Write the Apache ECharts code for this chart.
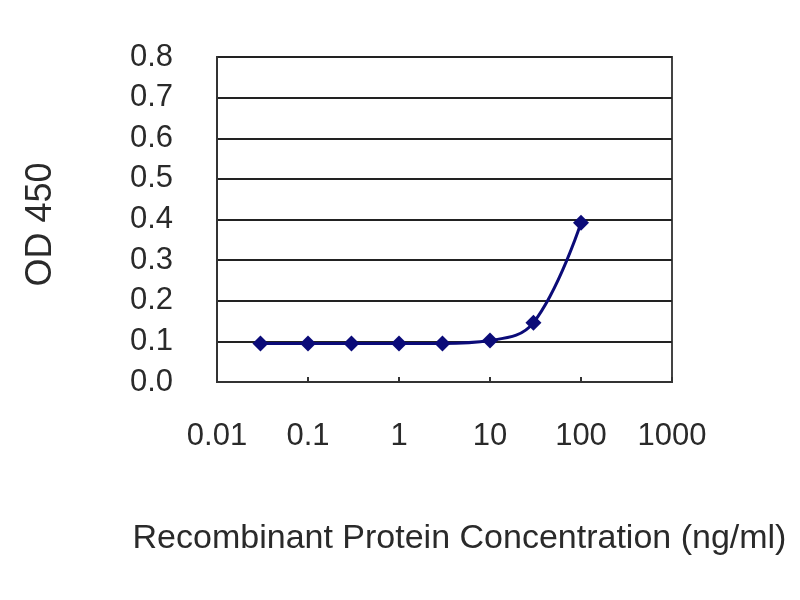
<!DOCTYPE html>
<html>
<head>
<meta charset="utf-8">
<script src="https://cdn.jsdelivr.net/npm/echarts@6/dist/echarts.min.js"></script>
<style>
html,body{margin:0;padding:0;background:#fff;}
#chart{width:800px;height:600px;}
</style>
</head>
<body>
<div id="chart"></div>
<script>
// Data
const concentrations = [0.03, 0.1, 0.3, 1, 3, 10, 30, 100];
const odValues = [0.095, 0.095, 0.095, 0.095, 0.095, 0.102, 0.146, 0.392];
const xTickLabels = ['0.01', '0.1', '1', '10', '100', '1000'];
const xAxisTitle = 'Recombinant Protein Concentration (ng/ml)';
const yAxisTitle = 'OD 450';

const chart = echarts.init(document.getElementById('chart'));
const font = '"Liberation Sans", Arial, sans-serif';
const option = {
  backgroundColor: '#fff',
  animation: false,
  grid: {
    left: 217, right: 128, top: 57, bottom: 218,
    show: true, borderColor: '#444', borderWidth: 2, backgroundColor: '#fff'
  },
  xAxis: {
    type: 'log', logBase: 10, min: 0.01, max: 1000,
    name: xAxisTitle, nameLocation: 'middle', nameGap: 140,
    nameTextStyle: { fontFamily: font, fontSize: 34, color: '#2a2a2a', padding: [0, 0, 0, 30] },
    axisLine: { show: true, lineStyle: { color: '#333', width: 2 } },
    axisTick: { show: true, inside: true, length: 5, lineStyle: { color: '#333', width: 2 } },
    minorTick: { show: false },
    splitLine: { show: false },
    axisLabel: {
      margin: 39, fontFamily: font, fontSize: 31, color: '#2a2a2a',
      formatter: function (v) {
        const i = Math.round(Math.log10(v)) + 2;
        return xTickLabels[i] !== undefined ? xTickLabels[i] : '';
      }
    }
  },
  yAxis: {
    type: 'value', min: 0, max: 0.8, interval: 0.1,
    name: yAxisTitle, nameLocation: 'middle', nameGap: 158, nameRotate: 90,
    nameTextStyle: { fontFamily: font, fontSize: 36, color: '#2a2a2a', padding: [0, 10, 0, 0] },
    axisLine: { show: true, lineStyle: { color: '#333', width: 2 } },
    axisTick: { show: false },
    splitLine: { show: true, lineStyle: { color: '#222', width: 2 } },
    axisLabel: {
      margin: 44, fontFamily: font, fontSize: 31, color: '#2a2a2a',
      formatter: function (v) { return v.toFixed(1); }
    }
  },
  series: [{
    type: 'line',
    data: concentrations.map((c, i) => [c, odValues[i]]),
    smooth: 0.4,
    symbol: 'diamond',
    symbolSize: 16,
    lineStyle: { color: '#0b0b78', width: 3 },
    itemStyle: { color: '#0b0b78' }
  }]
};
chart.setOption(option);
</script>
</body>
</html>
